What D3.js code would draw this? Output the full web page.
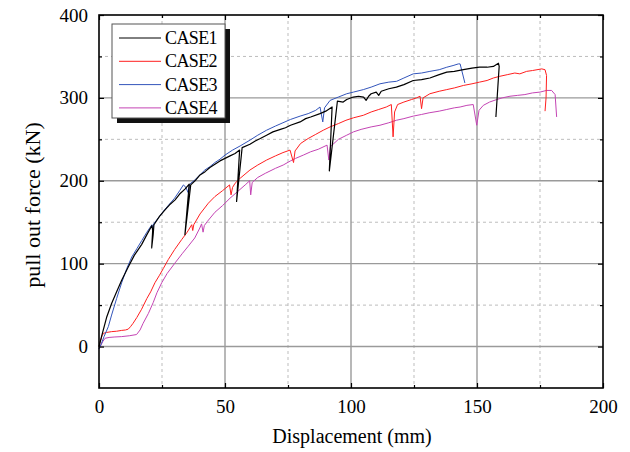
<!DOCTYPE html>
<html>
<head>
<meta charset="utf-8">
<script src="https://cdn.jsdelivr.net/npm/d3@7"></script>
<style>
  html, body { margin: 0; padding: 0; background: #fff; }
  svg { display: block; }
  svg text { font-family: "Liberation Serif", "Times New Roman", "DejaVu Serif", serif; }
</style>
</head>
<body>
<svg id="chart" width="630" height="452"></svg>
<script>
// Pull-out tests: displacement (mm) vs pull-out force (kN)
const xTicks = [0, 50, 100, 150, 200];
const yTicks = [0, 100, 200, 300, 400];
const xMinor = [25, 75, 125, 175];
const yMinor = [-50, 50, 150, 250, 350];

const seriesNames = ["CASE1", "CASE2", "CASE3", "CASE4"];
const seriesColors = ["#000000", "#ff1f1f", "#3355bb", "#c444b4"];

const case1 = [[0,0],[1,12],[3,35],[5,52],[7,66],[9,80],[11.6,96],[14,110],[16.9,123],[19,135],[21,146],[21.3,140],[20.9,119],[21.5,135],[21.8,147],[24,157],[26.2,165],[28,171],[30.2,177],[32,184],[34.1,190],[35.8,196],[34.1,135],[36.4,195],[38.1,200],[40.1,207],[42.1,211],[44,216],[46,220],[48,224],[50,227],[52,230],[54,233],[55.8,237],[54.6,175],[56.8,240],[59.9,244],[62,248],[64,251],[66.5,255],[69,259],[72,262],[74,264],[76,267],[79.8,271],[82,275],[84,277],[87.7,281],[90,284],[92.5,289],[91.4,212],[94.6,296],[96.9,295],[98.3,298],[100.9,301],[103,302],[105,301],[106,297],[107,302],[108,305],[110,307],[111,303],[112,308],[115,311],[118,313],[121,316],[124.7,321],[128,322],[131.3,324],[135,328],[138,331],[141,332],[144.6,334],[148,336],[151,337],[154,337],[156.5,338],[158.5,341.8],[158.8,338],[157.5,277]];

const case2 = [[0,0],[0.5,6],[1.2,13],[1.8,16],[3,17],[5,18],[7,18.5],[9,19.5],[10.5,20],[11.6,21],[12.5,24],[13.5,28],[15,35],[16.9,45],[19,58],[20.5,66],[22.2,77],[24,86],[25.5,94],[27.5,105],[30,117],[32.8,129],[35,138],[36.8,147],[37.2,140],[37.6,147],[40.1,160],[43.4,173],[46,181],[49,188],[51.8,195],[52.4,183],[53,192],[54,197],[56,203],[59.9,213],[63,219],[66.5,225],[70,230],[73,234],[75.8,237],[77.2,222],[77.8,236],[80,245],[83,251],[86,256],[89,261],[91.7,265],[95,269],[98,273],[101,276],[104.9,279],[108,283],[111,286],[114,289],[116,292],[116.7,253],[117.3,283],[118.5,292],[121,295],[124,298],[126,300],[127.4,302],[128,287],[128.6,300],[131.3,305],[135,308],[138,310],[141,312],[144.6,315],[148,317],[151,319],[154,321],[156.5,324],[159,326],[162,328],[165,330],[167,329],[169.7,332],[172,333],[175.7,335],[177,334],[177.6,327],[177.4,300],[177,284]];

const case3 = [[0,-3],[1,4],[2,12],[3.7,24],[5,38],[7,58],[9,77],[11,94],[13,108],[15,118],[17,128],[19,138],[21,147],[21.4,142],[21.7,148],[24,157],[26,165],[28,172],[30,179],[32,188],[33.5,195],[34.5,192],[35.3,186],[36,196],[38,201],[40,207],[42,213],[44,217],[46,222],[48,226],[50,231],[53,237],[56,242],[59.9,249],[63,255],[66.5,261],[70,266],[73,270],[76,274],[79.8,278],[83,281],[86,285],[87.7,289],[88.8,271],[89.5,288],[91.7,297],[95,301],[98.3,305],[101,307],[104.9,310],[108,313],[111.5,317],[115,319],[118.1,320],[121,324],[124.7,329],[128,330],[131.3,332],[135,334],[138,337],[140.5,339],[142.6,341],[143.3,341],[145.2,318]];

const case4 = [[0,-3],[0.5,0],[1.5,6],[2.4,10],[4,11],[6,11.5],[9,12],[12,13],[14.9,14.5],[16.3,20],[17.5,28],[19.6,40],[21.5,53],[23,65],[24.9,77],[27,88],[30.2,101],[33,112],[35.4,121],[38,131],[40,143],[40.7,148],[41.3,138],[41.8,146],[43,151],[46,162],[49,170],[52,179],[55,187],[58,195],[59.8,200],[60.2,183],[60.8,198],[63,204],[66,209],[70,215],[73.1,219],[76,224],[78,227],[81.1,231],[84,235],[87,238],[90.5,243],[91.2,225],[91.8,241],[95,250],[98.3,255],[101,259],[104,262],[108,265],[111.5,267],[115,270],[118,273],[121,275],[124.7,278],[128,280],[131,282],[135,284],[138,286],[141,288],[143.3,289],[146,291],[148.5,292],[149.9,267],[150.8,285],[152.5,291],[155,295],[157.8,298],[160,300],[163.1,302],[166,303],[169,304],[172,306],[175,307],[177.6,309],[179.6,309],[181,304],[181.6,277]];

const seriesData = [case1, case2, case3, case4];
const serif = "'Liberation Serif', 'Times New Roman', 'DejaVu Serif', serif";

const svg = d3.select("#chart").attr("font-family", serif);
const plotL = 99, plotR = 603, plotT = 15, plotB = 388;

const x = d3.scaleLinear().domain([0, 200]).range([plotL, plotR]);
const y = d3.scaleLinear().domain([-50, 400]).range([plotB, plotT]);

// grid: dashed minor lines, solid major lines
const grid = svg.append("g");
grid.selectAll("line.xm").data(xMinor).join("line")
  .attr("x1", d => x(d)).attr("x2", d => x(d)).attr("y1", plotT).attr("y2", plotB)
  .attr("stroke", "#bdbdbd").attr("stroke-width", 1).attr("stroke-dasharray", "3,3");
grid.selectAll("line.ym").data(yMinor.filter(v => v > -50)).join("line")
  .attr("y1", d => y(d)).attr("y2", d => y(d)).attr("x1", plotL).attr("x2", plotR)
  .attr("stroke", "#bdbdbd").attr("stroke-width", 1).attr("stroke-dasharray", "3,3");
grid.selectAll("line.xM").data(xTicks.slice(1, -1)).join("line")
  .attr("x1", d => x(d)).attr("x2", d => x(d)).attr("y1", plotT).attr("y2", plotB)
  .attr("stroke", "#9a9a9a").attr("stroke-width", 1.4);
grid.selectAll("line.yM").data(yTicks.slice(0, -1)).join("line")
  .attr("y1", d => y(d)).attr("y2", d => y(d)).attr("x1", plotL).attr("x2", plotR)
  .attr("stroke", "#9a9a9a").attr("stroke-width", 1.4);

// data curves
const line = d3.line().x(d => x(d[0])).y(d => y(d[1]));
const curves = svg.append("g");
[3, 1, 2, 0].forEach(i => {
  curves.append("path").datum(seriesData[i])
    .attr("d", line)
    .attr("fill", "none")
    .attr("stroke", seriesColors[i])
    .attr("stroke-width", i === 0 ? 1.2 : 1)
    .attr("stroke-linejoin", "round");
});

// axes with inward ticks on all sides
const fontSize = 19;
const yMinorIn = yMinor.filter(v => v > -50);
function styleAxis(g) {
  g.attr("font-family", serif);
  g.select(".domain").remove();
  g.selectAll("line").attr("stroke", "#000").attr("stroke-width", 1.2);
  g.selectAll("text").attr("font-size", fontSize).attr("fill", "#000")
    .attr("font-family", serif);
}
const axes = [
  [d3.axisBottom(x).tickValues(xTicks).tickSizeInner(-5).tickPadding(12), `translate(0,${plotB})`],
  [d3.axisBottom(x).tickValues(xMinor).tickSizeInner(-3).tickFormat(""), `translate(0,${plotB})`],
  [d3.axisTop(x).tickValues(xTicks).tickSizeInner(-5).tickFormat(""), `translate(0,${plotT})`],
  [d3.axisTop(x).tickValues(xMinor).tickSizeInner(-3).tickFormat(""), `translate(0,${plotT})`],
  [d3.axisLeft(y).tickValues(yTicks).tickSizeInner(-5).tickPadding(11), `translate(${plotL},0)`],
  [d3.axisLeft(y).tickValues(yMinorIn).tickSizeInner(-3).tickFormat(""), `translate(${plotL},0)`],
  [d3.axisRight(y).tickValues(yTicks).tickSizeInner(-5).tickFormat(""), `translate(${plotR},0)`],
  [d3.axisRight(y).tickValues(yMinorIn).tickSizeInner(-3).tickFormat(""), `translate(${plotR},0)`]
];
axes.forEach(([ax, tr]) => {
  svg.append("g").attr("transform", tr).call(ax.tickSizeOuter(0)).call(styleAxis);
});

// frame
svg.append("rect").attr("x", plotL).attr("y", plotT)
  .attr("width", plotR - plotL).attr("height", plotB - plotT)
  .attr("fill", "none").attr("stroke", "#000").attr("stroke-width", 1.6);

// axis titles
svg.append("text").attr("x", 352).attr("y", 443).attr("text-anchor", "middle")
  .attr("font-family", serif).attr("font-size", 20).text("Displacement (mm)");
svg.append("text").attr("transform", "translate(40,205) rotate(-90)")
  .attr("font-family", serif).attr("text-anchor", "middle").attr("font-size", 22)
  .text("pull out force (kN)");

// legend with drop shadow
const lg = svg.append("g");
const lx = 112, ly = 24, lw = 113, lh = 94;
lg.append("rect").attr("x", lx + 5).attr("y", ly + 5).attr("width", lw).attr("height", lh).attr("fill", "#111");
lg.append("rect").attr("x", lx).attr("y", ly).attr("width", lw).attr("height", lh)
  .attr("fill", "#fff").attr("stroke", "#555").attr("stroke-width", 1);
seriesNames.forEach((name, i) => {
  const yy = 38 + i * 23.3;
  lg.append("line").attr("x1", 119).attr("x2", 161).attr("y1", yy).attr("y2", yy)
    .attr("stroke", seriesColors[i]).attr("stroke-width", 1);
  lg.append("text").attr("x", 165).attr("y", yy + 6).attr("font-size", 18)
    .attr("font-family", serif).attr("letter-spacing", "-0.6").text(name);
});
</script>
</body>
</html>
